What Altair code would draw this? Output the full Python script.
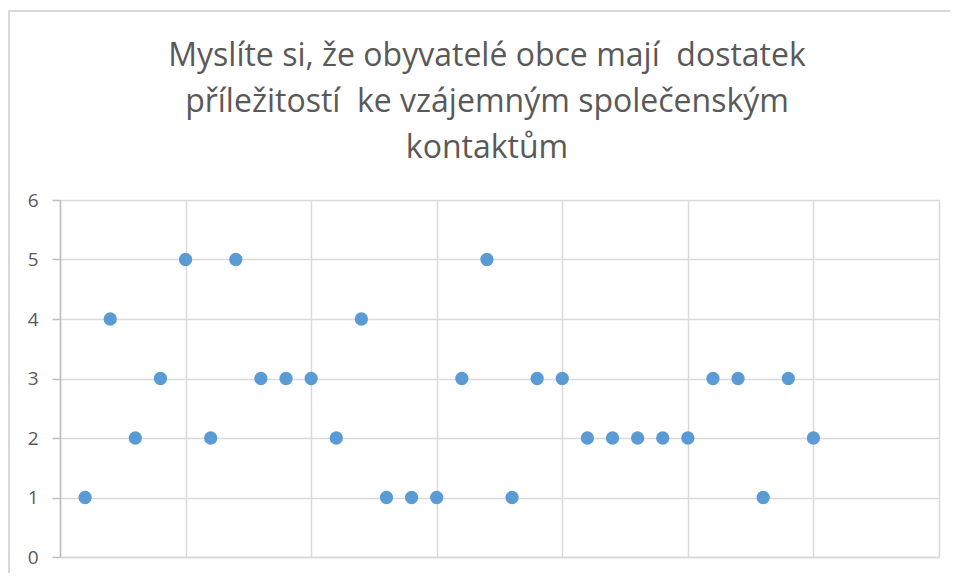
import altair as alt
import pandas as pd

respondent = list(range(1, 31))
answers = [1, 4, 2, 3, 5, 2, 5, 3, 3, 3, 2, 4, 1, 1, 1, 3, 5, 1, 3, 3,
           2, 2, 2, 2, 2, 3, 3, 1, 3, 2]
y_ticks = [0, 1, 2, 3, 4, 5, 6]
x_grid = [0, 5, 10, 15, 20, 25, 30, 35]
title_lines = ["Myslíte si, že obyvatelé obce mají \u00a0dostatek",
               "příležitostí \u00a0ke vzájemným společenským",
               "kontaktům"]

df = pd.DataFrame({"x": respondent, "y": answers})
one_df = pd.DataFrame({"k": [0]})

FONT = "Open Sans"
TXT = "#595959"

points = alt.Chart(df).mark_circle(size=177, color="#5b9bd5", opacity=1).encode(
    x=alt.X("x:Q", scale=alt.Scale(domain=[0, 35], nice=False),
            axis=alt.Axis(values=x_grid, labels=False, ticks=False, title=None,
                          domainColor="#d9d9d9", domainWidth=1.5,
                          gridColor="#d9d9d9", gridWidth=1.5)),
    y=alt.Y("y:Q", scale=alt.Scale(domain=[0, 6], nice=False),
            axis=alt.Axis(values=y_ticks, title=None, labelFont=FONT,
                          labelFontSize=19, labelColor=TXT, labelPadding=14,
                          tickColor="#bfbfbf", tickSize=8, tickWidth=1.5,
                          domainColor="#bfbfbf", domainWidth=1.5,
                          gridColor="#d9d9d9", gridWidth=1.5)),
)

frame = alt.Chart(one_df).mark_rect(fill=None, stroke="#d9d9d9", strokeWidth=2).encode(
    x=alt.value(-51), x2=alt.value(1100), y=alt.value(-189), y2=alt.value(600)
)

title = alt.Chart(one_df).mark_text(
    text=title_lines, font=FONT, fontSize=32, color=TXT, lineHeight=46,
    align="center", baseline="alphabetic"
).encode(x=alt.value(427), y=alt.value(-134))

chart = alt.layer(frame, points, title).properties(
    width=879, height=357,
    padding={"left": 52, "top": 192, "right": 11, "bottom": 16},
    autosize=alt.AutoSizeParams(type="none"),
).configure_view(stroke=None).configure(background="white")

chart.save("out.html", embed_options={"renderer": "svg", "actions": False})
